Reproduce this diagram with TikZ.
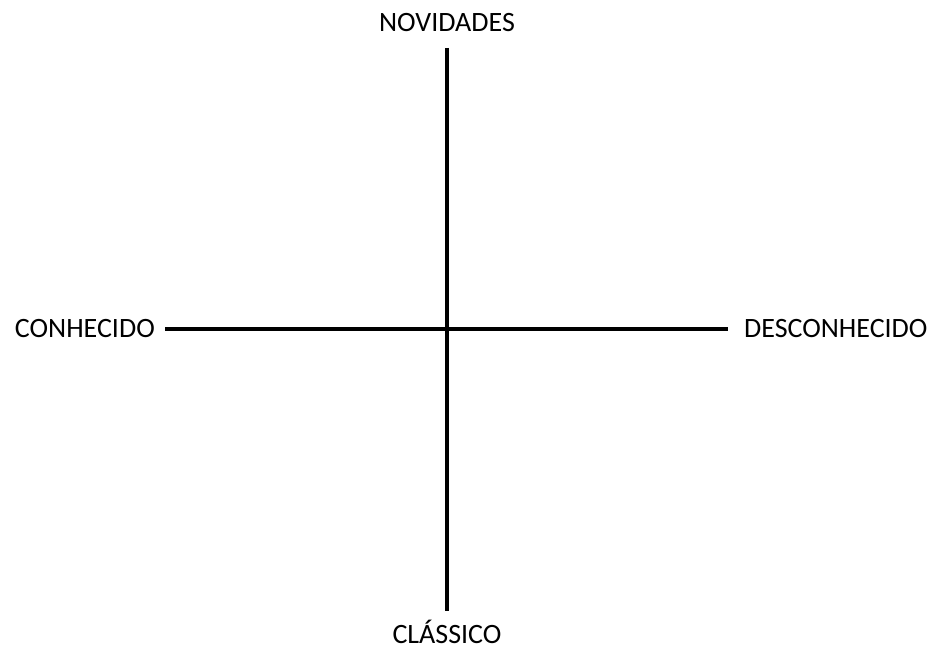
\documentclass[tikz,border=0pt]{standalone}
\usepackage{fontspec}
\setmainfont{Carlito}
\begin{document}
\begin{tikzpicture}[
    x=1pt, y=-1pt,
    axis/.style={line width=4pt, black},
    label/.style={inner sep=0pt, text depth=0pt, font=\fontsize{28}{33}\selectfont}
]
  \useasboundingbox (0,0) rectangle (933,647);

  % Axis ends
  \coordinate (top) at (446.5,48);
  \coordinate (bottom) at (446.5,611);
  \coordinate (left) at (165,328.5);
  \coordinate (right) at (728,328.5);

  % Labels
  \node[label, anchor=base] (novidades) at (447,32) {NOVIDADES};
  \node[label, anchor=base] (classico) at (447,643) {CLÁSSICO};
  \node[label, anchor=base east] (conhecido) at (155,337) {CONHECIDO};
  \node[label, anchor=base west] (desconhecido) at (744,337) {DESCONHECIDO};

  % Axes
  \draw[axis] (top) -- (bottom);
  \draw[axis] (left) -- (right);
\end{tikzpicture}
\end{document}
